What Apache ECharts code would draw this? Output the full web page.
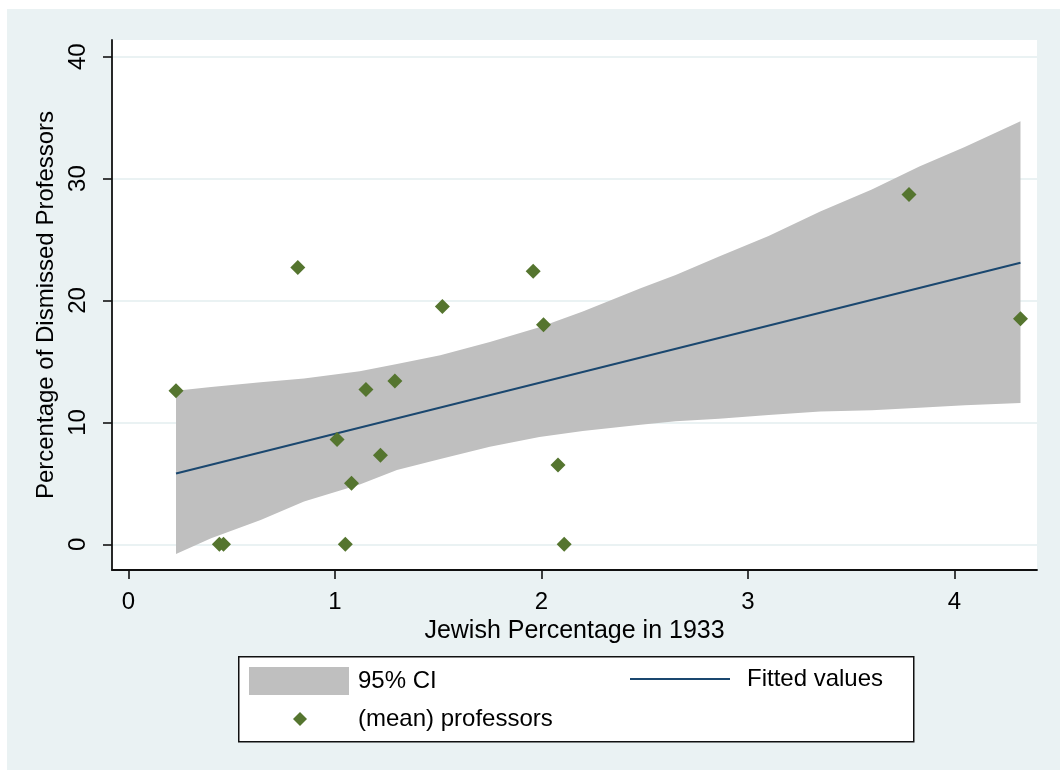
<!DOCTYPE html>
<html>
<head>
<meta charset="utf-8">
<script src="https://cdn.jsdelivr.net/npm/echarts@6/dist/echarts.min.js"></script>
<style>
  html, body { margin: 0; padding: 0; background: #ffffff; }
  #chart { position: absolute; left: 7px; top: 9px; width: 1053px; height: 761px; background: #eaf2f3; }
</style>
</head>
<body>
<div id="chart"></div>
<script>
// Observations: Jewish share of the population (x) vs. share of professors dismissed (y)
const jewishPct    = [0.23, 0.44, 0.46, 0.82, 1.01, 1.05, 1.08, 1.15, 1.22, 1.29, 1.52, 1.96, 2.01, 2.08, 2.11, 3.78, 4.32];
const dismissedPct = [12.6, 0,    0,    22.7, 8.6,  0,    5.0,  12.7, 7.3,  13.4, 19.5, 22.4, 18.0, 6.5,  0,    28.7, 18.5];

// Linear fit
const fitX = [0.23, 4.32];
const fitY = [5.8, 23.1];

// 95% confidence band of the fit
const ciX     = [0.23, 0.40, 0.64, 0.85, 1.12, 1.30, 1.51, 1.75, 1.99, 2.20, 2.48, 2.65, 2.86, 3.10, 3.35, 3.60, 3.83, 4.05, 4.32];
const ciUpper = [12.6, 12.9, 13.3, 13.6, 14.2, 14.8, 15.5, 16.6, 17.8, 19.1, 21.0, 22.1, 23.6, 25.3, 27.3, 29.1, 31.0, 32.6, 34.7];
const ciLower = [-0.8, 0.5,  2.0,  3.5,  4.9,  6.1,  7.0,  8.0,  8.8,  9.3,  9.8,  10.1, 10.3, 10.6, 10.9, 11.0, 11.2, 11.4, 11.6];

// Axis ticks
const xTicks = [0, 1, 2, 3, 4];
const yTicks = [0, 10, 20, 30, 40];

const FONT = '"Liberation Sans", Arial, sans-serif';
const TXT = '#000000';
const AXIS_COLOR = '#111111';
const NAVY = '#1a476f';
const GREEN = '#55752f';

const chart = echarts.init(document.getElementById('chart'), null, { renderer: 'canvas' });

const axisCommon = {
  type: 'value',
  axisLine: { show: true, onZero: false, lineStyle: { color: AXIS_COLOR, width: 1.8 } },
  axisTick: { show: true, inside: false, length: 9, lineStyle: { color: AXIS_COLOR, width: 1.6 } },
  nameTextStyle: { fontFamily: FONT, fontSize: 24, color: TXT },
};

chart.setOption({
  animation: false,
  backgroundColor: 'transparent',
  grid: {
    show: true, backgroundColor: '#ffffff', borderWidth: 0,
    left: 105, top: 31, right: 23, bottom: 200
  },
  xAxis: Object.assign({}, axisCommon, {
    min: -0.08, max: 4.40,
    name: 'Jewish Percentage in 1933',
    nameLocation: 'middle', nameGap: 46,
    nameTextStyle: { fontFamily: FONT, fontSize: 25, color: TXT },
    axisTick: Object.assign({}, axisCommon.axisTick, { customValues: xTicks }),
    axisLabel: { customValues: xTicks, margin: 20, fontFamily: FONT, fontSize: 24, color: TXT },
    splitLine: { show: false }
  }),
  yAxis: Object.assign({}, axisCommon, {
    min: -2.11, max: 41.37,
    name: 'Percentage of Dismissed Professors',
    nameLocation: 'middle', nameGap: 43,
    axisTick: Object.assign({}, axisCommon.axisTick, { customValues: yTicks }),
    axisLabel: { customValues: yTicks, rotate: 90, margin: 22, fontFamily: FONT, fontSize: 24, color: TXT },
    splitLine: { show: true, lineStyle: { color: '#eaf2f3', width: 2 } }
  }),
  legend: [
    {
      data: [{ name: '95% CI', icon: 'rect' }],
      left: 242, top: 658, padding: 0, itemWidth: 100, itemHeight: 28, selectedMode: false,
      textStyle: { fontFamily: FONT, fontSize: 24, color: TXT, padding: [4, 0, 0, 4] }
    },
    {
      data: [{ name: 'Fitted values', icon: 'path://M0,0 L100,0 L100,2 L0,2 Z' }],
      left: 623, top: 658, padding: 0, itemWidth: 100, itemHeight: 28, selectedMode: false,
      textStyle: { fontFamily: FONT, fontSize: 24, color: TXT, padding: [4, 0, 0, 12] }
    },
    {
      data: [{ name: '(mean) professors', icon: 'diamond' }],
      left: 286, top: 698, padding: 0, itemWidth: 14, itemHeight: 14, selectedMode: false,
      textStyle: { fontFamily: FONT, fontSize: 24, color: TXT, padding: [0, 0, 0, 46] }
    }
  ],
  graphic: [
    {
      type: 'rect', left: 231, top: 647, z: 0, silent: true,
      shape: { width: 675, height: 85 },
      style: { fill: '#ffffff', stroke: '#111111', lineWidth: 1.5 }
    }
  ],
  series: [
    {
      name: '95% CI',
      type: 'custom',
      coordinateSystem: 'cartesian2d',
      z: 1,
      itemStyle: { color: '#bfbfbf' },
      data: ciX.map((x, i) => [x, ciLower[i], ciUpper[i]]),
      encode: { x: 0, y: [1, 2] },
      renderItem: function (params, api) {
        if (params.dataIndex !== 0) return null;
        const upper = [], lower = [];
        for (let i = 0; i < ciX.length; i++) {
          upper.push(api.coord([ciX[i], ciUpper[i]]));
          lower.push(api.coord([ciX[i], ciLower[i]]));
        }
        return {
          type: 'polygon',
          shape: { points: upper.concat(lower.reverse()) },
          style: { fill: '#bfbfbf' }
        };
      }
    },
    {
      name: 'Fitted values',
      type: 'line',
      z: 3,
      symbol: 'none',
      data: fitX.map((x, i) => [x, fitY[i]]),
      itemStyle: { color: NAVY },
      lineStyle: { color: NAVY, width: 2 }
    },
    {
      name: '(mean) professors',
      type: 'scatter',
      z: 4,
      symbol: 'diamond',
      symbolSize: 15,
      data: jewishPct.map((x, i) => [x, dismissedPct[i]]),
      itemStyle: { color: GREEN, opacity: 1 }
    }
  ]
});
</script>
</body>
</html>
